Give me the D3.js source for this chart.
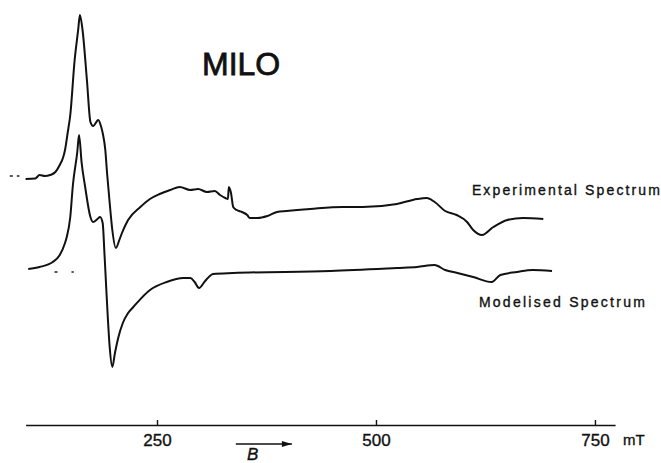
<!DOCTYPE html>
<html>
<head>
<meta charset="utf-8">
<script src="https://cdn.jsdelivr.net/npm/d3@7"></script>
<style>
  body { margin: 0; background: #fff; }
  svg text { font-family: "Liberation Sans", Arial, sans-serif; fill: #111; stroke: #111; stroke-width: 0.35px; }
</style>
</head>
<body>
<div id="spectrum"></div>
<script>
// Experimental spectrum: field (mT) and signal (arbitrary units, from its own baseline)
var expField = [100, 111, 116, 122, 128, 134, 139, 143, 145, 148, 151, 156, 160, 162, 165, 170,
  174, 177, 183, 186, 188, 191, 193, 196, 199, 203, 207, 210, 217, 231, 242, 253, 265, 276,
  288, 297, 307, 316, 322, 328, 331, 332, 334.5, 337, 341, 347, 353, 356, 365, 376, 387, 398,
  425, 462, 485, 524, 547, 558, 567, 579, 592, 604, 611, 621, 634, 650, 668, 691];
var expSignal = [-1, -0.5, 3, 2, 3, 6, 13, 21, 28, 45, 63, 118, 148, 163, 148, 98,
  56, 52, 58, 52, 45, 28, 5, -25, -52, -70, -62, -55, -42, -29, -21, -16, -12, -9,
  -12, -11, -14, -13, -17, -20, -21, -9, -15, -29, -32, -34, -37, -40, -40, -38, -34, -33,
  -31, -29, -29, -26, -21, -20, -24, -33, -37, -44, -52, -57, -49, -42, -40, -41];

// Modelised spectrum
var modField = [103, 116, 131, 139, 145, 147, 151, 154, 159, 161, 164, 168, 174, 177, 182,
  185, 188, 190, 192, 194, 196, 199, 202, 206, 211, 217, 223, 242, 261, 280, 288, 293, 298,
  305, 314, 337, 448, 524, 547, 567, 579, 593, 611, 632, 642, 661, 679, 701];
var modSignal = [0, 2, 7, 14, 26, 32, 52, 84, 117, 134, 106, 82, 52, 47, 50,
  52, 46, 16, -18, -51, -78, -98, -84, -68, -54, -44, -38, -21, -13, -9, -9, -13, -19,
  -12, -5, -4, -2, 1, 2, 4, -1, -4, -8, -13, -6, -3, -1, -2];

var tickValues = [250, 500, 750];
var tickLabels = ["250", "500", "750"];
var seriesNames = ["Experimental Spectrum", "Modelised Spectrum"];
var title = "MILO";
var unit = "mT";

var width = 661, height = 463;

var svg = d3.select("#spectrum")
  .append("svg")
    .attr("width", width)
    .attr("height", height);

// field axis scale
var x = d3.scaleLinear()
  .domain([100, 773])
  .range([25.6, 615.1]);

// signal scale, one pixel per unit; spectra are stacked with an offset
var y = d3.scaleLinear()
  .domain([-247, 163])
  .range([425, 15]);
var offsets = [0, -91];

var line = d3.line()
  .curve(d3.curveMonotoneX)
  .x(function(d) { return x(d[0]); })
  .y(function(d) { return y(d[1]); });

var series = [
  d3.zip(expField, expSignal.map(function(v) { return v + offsets[0]; })),
  d3.zip(modField, modSignal.map(function(v) { return v + offsets[1]; }))
];

svg.selectAll("path.spec")
  .data(series)
  .enter()
  .append("path")
    .attr("class", "spec")
    .attr("fill", "none")
    .attr("stroke", "#111")
    .attr("stroke-width", 2)
    .attr("stroke-linejoin", "round")
    .attr("d", line);

// little baseline marks drawn before each trace
svg.append("line")
  .attr("x1", x(82)).attr("x2", x(93))
  .attr("y1", y(2)).attr("y2", y(2))
  .attr("stroke", "#222").attr("stroke-width", 1.3)
  .attr("stroke-dasharray", "3,4");
svg.append("line")
  .attr("x1", x(133)).attr("x2", x(155))
  .attr("y1", y(-94)).attr("y2", y(-94))
  .attr("stroke", "#222").attr("stroke-width", 1.3)
  .attr("stroke-dasharray", "3,14");

// series labels
svg.append("text")
  .attr("x", x(609.5))
  .attr("y", y(-17))
  .attr("textLength", 188)
  .attr("lengthAdjust", "spacing")
  .style("font-size", "14px")
  .text(seriesNames[0]);
svg.append("text")
  .attr("x", x(617.5))
  .attr("y", y(-129))
  .attr("textLength", 166)
  .attr("lengthAdjust", "spacing")
  .style("font-size", "14px")
  .text(seriesNames[1]);

// title
svg.append("text")
  .attr("x", 202)
  .attr("y", 75)
  .style("font-size", "32px")
  .style("stroke-width", "0.8px")
  .text(title);

// field axis
var axis = svg.append("g")
  .attr("transform", "translate(0," + y(-247) + ")")
  .call(d3.axisBottom(x)
    .tickValues(tickValues)
    .tickFormat(function(d, i) { return tickLabels[i]; })
    .tickSizeInner(-5)
    .tickSizeOuter(0)
    .tickPadding(4));
axis.select(".domain").attr("stroke", "#111").attr("stroke-width", 1.6);
axis.selectAll(".tick line").attr("stroke", "#111").attr("stroke-width", 1.4);
axis.selectAll(".tick text")
  .attr("y", 9)
  .style("font-size", "17px")
  .style("font-family", "'Liberation Sans', Arial, sans-serif")
  .attr("fill", "#111");

svg.append("text")
  .attr("x", 623)
  .attr("y", 445)
  .style("font-size", "15px")
  .text(unit);

// field direction arrow
svg.append("defs").append("marker")
  .attr("id", "head")
  .attr("viewBox", "0 0 10 6")
  .attr("refX", 10).attr("refY", 3)
  .attr("markerWidth", 11).attr("markerHeight", 6)
  .attr("markerUnits", "userSpaceOnUse")
  .attr("orient", "auto")
  .append("path")
    .attr("d", "M0,0L10,3L0,6Z")
    .attr("fill", "#111");
svg.append("line")
  .attr("x1", x(340)).attr("x2", x(404))
  .attr("y1", 444).attr("y2", 444)
  .attr("stroke", "#111").attr("stroke-width", 1.6)
  .attr("marker-end", "url(#head)");
svg.append("text")
  .attr("x", 247)
  .attr("y", 460)
  .style("font-size", "17px")
  .style("font-style", "italic")
  .text("B");
</script>
</body>
</html>
